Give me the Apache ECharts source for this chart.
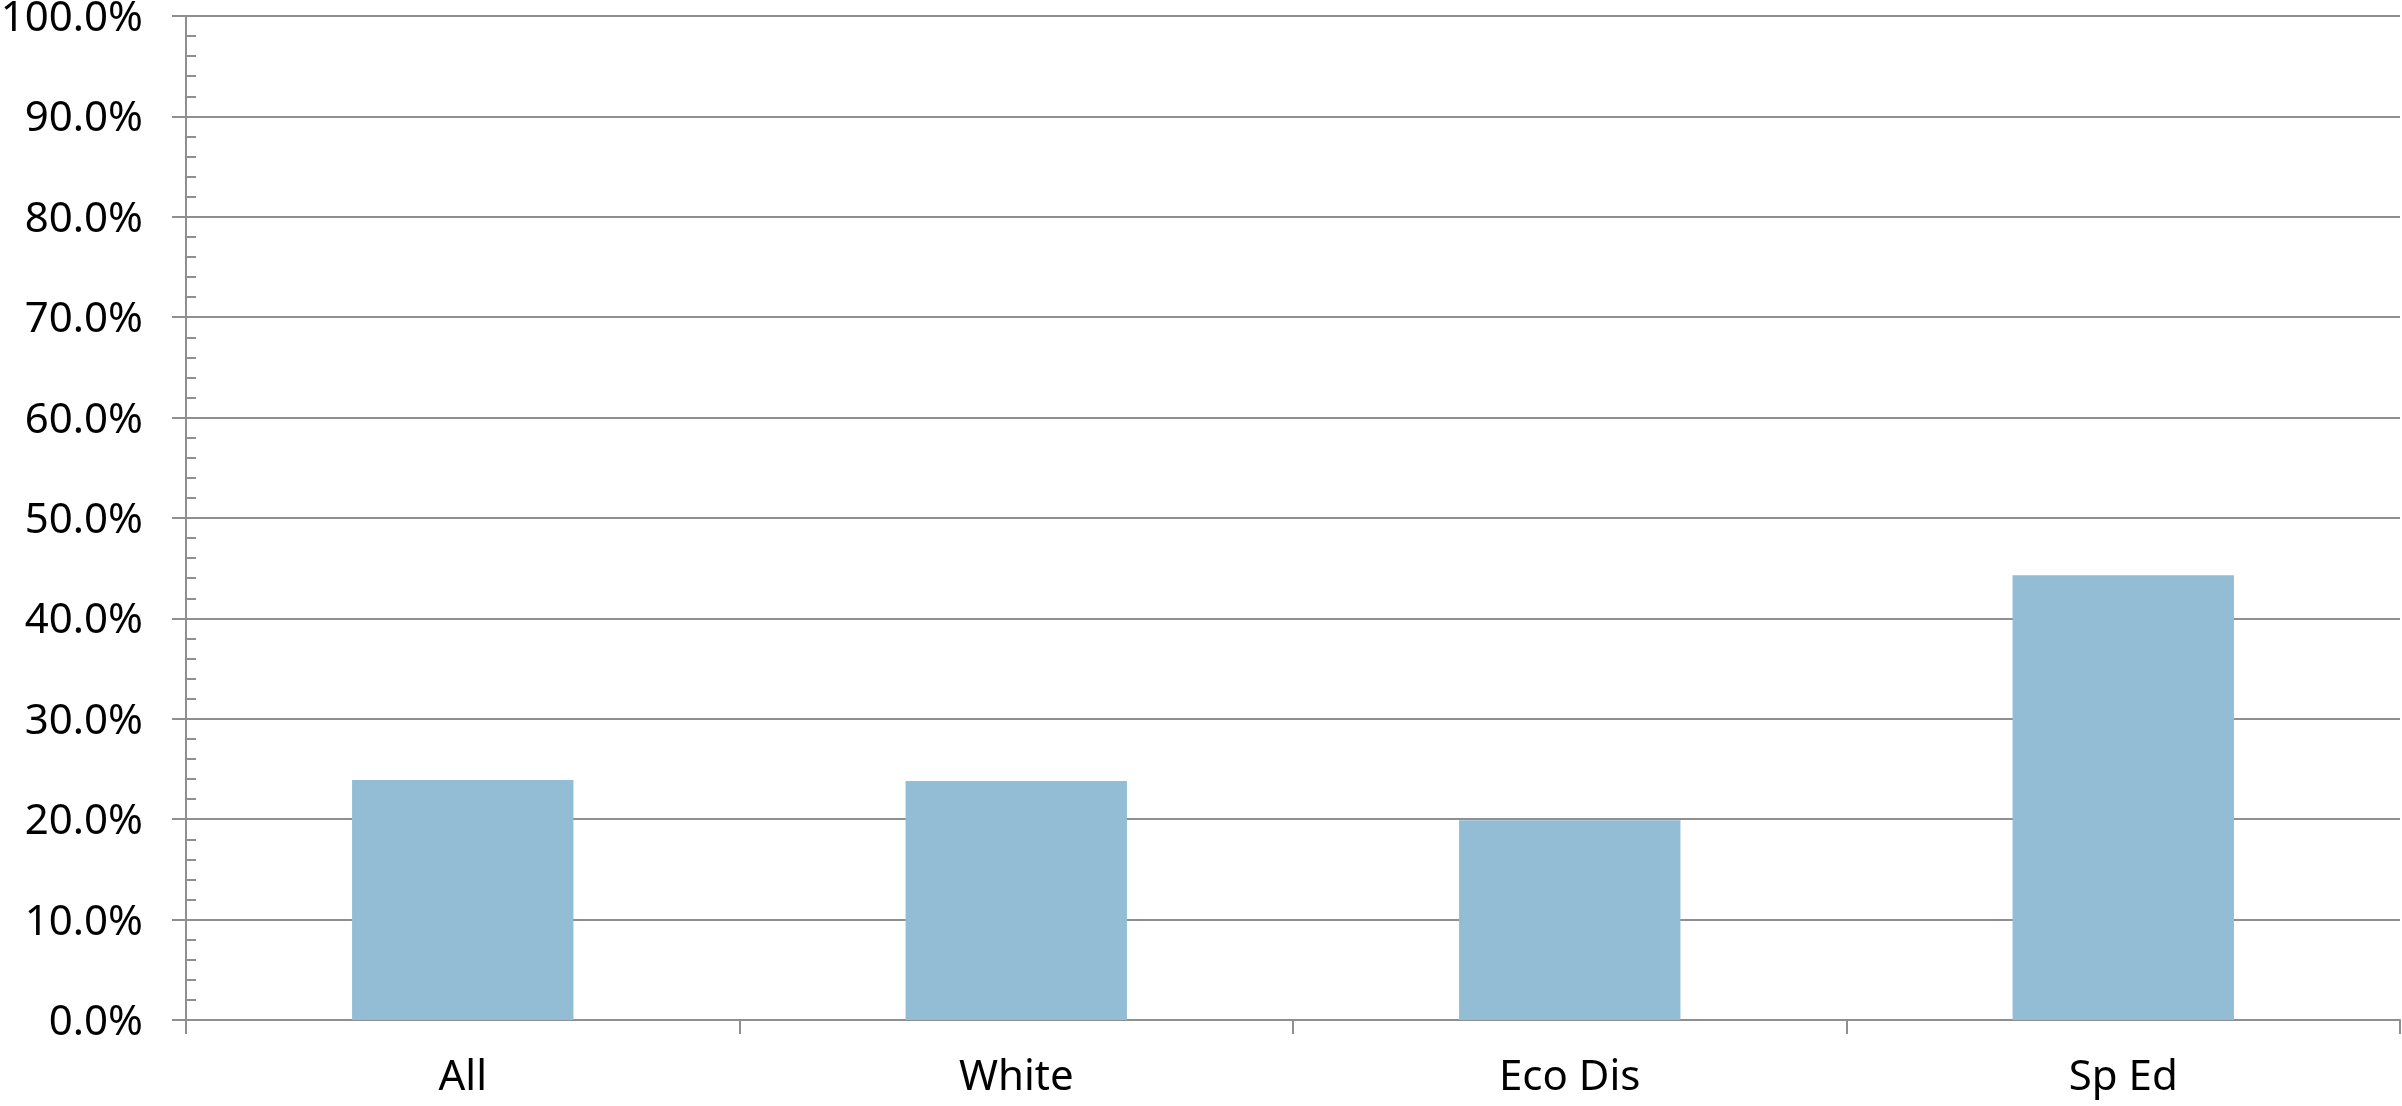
<!DOCTYPE html>
<html>
<head>
<meta charset="utf-8">
<script src="https://cdn.jsdelivr.net/npm/echarts@6/dist/echarts.min.js"></script>
<style>
  html, body { margin: 0; padding: 0; background: #fff; }
  #chart { width: 2402px; height: 1106px; }
</style>
</head>
<body>
<div id="chart"></div>
<script>
// categories and values (percent)
const categories = ['All', 'White', 'Eco Dis', 'Sp Ed']
const values = [23.9, 23.8, 19.9, 44.3]
const yMin = 0
const yMax = 100
const yStep = 10

const gray = '#8f8f8f'
const font = 'Noto Sans'

const chart = echarts.init(document.getElementById('chart'))

chart.setOption({
  animation: false,
  grid: {
    left: 186,
    right: 2,
    top: 16,
    bottom: 86,
    containLabel: false,
    outerBoundsMode: 'none'
  },
  xAxis: {
    type: 'category',
    data: categories,
    axisLine: { lineStyle: { color: gray, width: 2 } },
    axisTick: {
      show: true,
      alignWithLabel: false,
      length: 14,
      lineStyle: { color: gray, width: 2 }
    },
    axisLabel: {
      color: '#000',
      fontFamily: font,
      fontSize: 42,
      margin: 37
    }
  },
  yAxis: [
    {
      // main axis: labels, grid lines, outward major ticks
      type: 'value',
      min: yMin,
      max: yMax,
      interval: yStep,
      position: 'left',
      axisLine: { show: true, lineStyle: { color: gray, width: 2 } },
      axisTick: { show: true, length: 14, lineStyle: { color: gray, width: 2 } },
      splitLine: { show: true, lineStyle: { color: gray, width: 2 } },
      axisLabel: {
        margin: 43,
        formatter: function (v) {
          return '{v|' + v.toFixed(1) + '%}'
        },
        rich: {
          v: {
            color: '#000',
            fontFamily: font,
            fontSize: 42,
            lineHeight: 42,
            padding: [6, 0, 0, 0]
          }
        }
      }
    },
    {
      // overlay axis only for the inside minor ticks
      type: 'value',
      min: yMin,
      max: yMax,
      interval: yStep,
      position: 'left',
      axisLine: { show: false },
      axisLabel: { show: false },
      splitLine: { show: false },
      axisTick: { show: true, inside: true, length: 10, lineStyle: { color: gray, width: 2 } },
      minorTick: { show: true, splitNumber: 5, length: 10, lineStyle: { color: gray, width: 2 } }
    }
  ],
  series: [
    {
      type: 'bar',
      data: values,
      yAxisIndex: 0,
      barCategoryGap: '60%',
      itemStyle: { color: '#93bdd5' }
    }
  ]
})
</script>
</body>
</html>
